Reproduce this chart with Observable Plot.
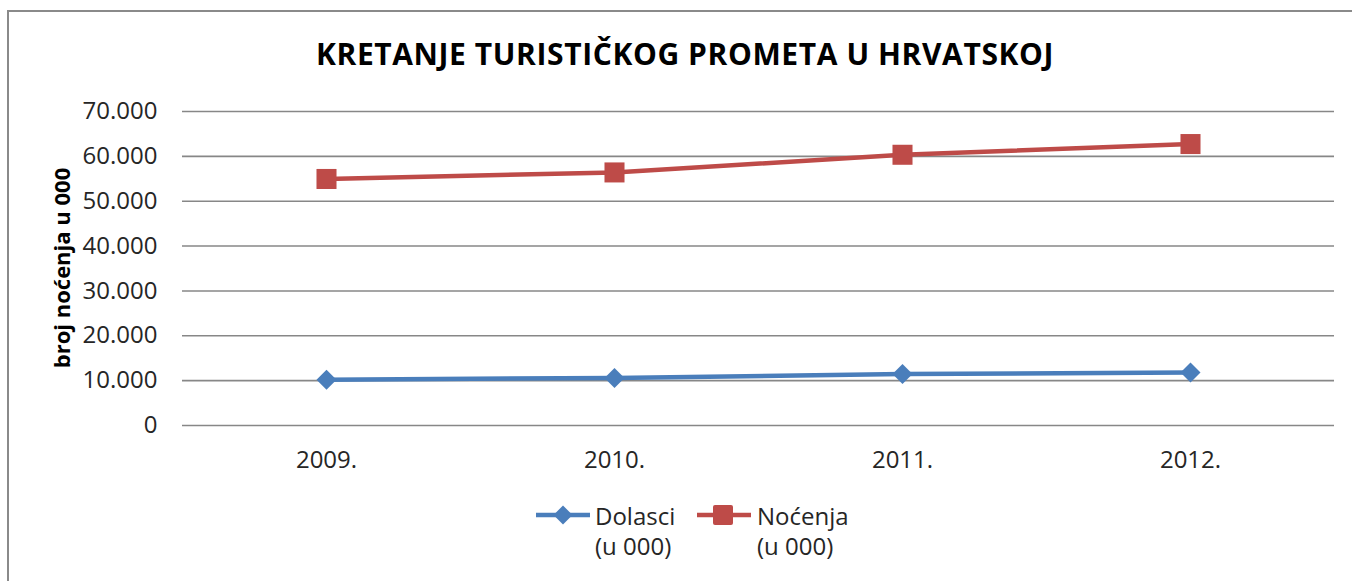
<!DOCTYPE html>
<html>
<head>
<meta charset="utf-8">
<script src="https://cdn.jsdelivr.net/npm/d3@7"></script>
<script src="https://cdn.jsdelivr.net/npm/@observablehq/plot@0.6"></script>
<style>
  html, body { margin: 0; padding: 0; background: #fff; overflow: hidden; }
  #wrap { position: relative; width: 1352px; height: 581px; overflow: hidden; font-family: "Open Sans", sans-serif; color: #262626; }
  #frame { position: absolute; left: 7px; top: 10px; width: 1400px; height: 640px; border-top: 2px solid #8a8a8a; border-left: 2px solid #8a8a8a; }
  #title { position: absolute; left: 0; width: 1370px; top: 33px; text-align: center; font-weight: 700; font-size: 30px; letter-spacing: 0.6px; color: #000; white-space: nowrap; }
  #ylabel { position: absolute; left: 61px; top: 268px; transform: translate(-50%, -50%) rotate(-90deg); font-weight: 700; font-size: 22px; color: #000; white-space: nowrap; }
  #chart { position: absolute; left: 0; top: 0; }
  .leg { position: absolute; font-size: 24px; line-height: 30px; color: #262626; }
  .sw { position: absolute; }
</style>
</head>
<body>
<div id="wrap">
  <div id="frame"></div>
  <div id="chart"></div>
  <div id="title">KRETANJE TURISTIČKOG PROMETA U HRVATSKOJ</div>
  <div id="ylabel">broj noćenja u 000</div>
  <svg class="sw" style="left:535px; top:503px" width="56" height="24">
    <line x1="1" y1="12" x2="55" y2="12" stroke="#4a7ebb" stroke-width="4.5"/>
    <path d="M28,2.5 L37.5,12 L28,21.5 L18.5,12 Z" fill="#4a7ebb"/>
  </svg>
  <div class="leg" style="left:595px; top:501px">Dolasci<br>(u 000)</div>
  <svg class="sw" style="left:696px; top:503px" width="56" height="24">
    <line x1="1" y1="12" x2="55" y2="12" stroke="#be4b48" stroke-width="4.5"/>
    <rect x="17" y="2" width="20" height="20" rx="2" fill="#be4b48"/>
  </svg>
  <div class="leg" style="left:757px; top:501px">Noćenja<br>(u 000)</div>
</div>
<script>
const years = ["2009.", "2010.", "2011.", "2012."];
const seriesNames = ["Dolasci", "Noćenja"];
const dolasci = [10200, 10604, 11456, 11835];
const nocenja = [54960, 56416, 60354, 62743];
const yTicks = [0, 10000, 20000, 30000, 40000, 50000, 60000, 70000];
const colors = ["#4a7ebb", "#be4b48"];

const data = years.flatMap((yr, i) => [
  {year: yr, series: "Dolasci", value: dolasci[i]},
  {year: yr, series: "Noćenja", value: nocenja[i]}
]);

const hr = d3.formatLocale({decimal: ",", thousands: ".", grouping: [3], currency: ["", " kn"]});
const fmt = hr.format(",");

const chart = Plot.plot({
  width: 1352,
  height: 581,
  marginLeft: 182,
  marginRight: 18,
  marginTop: 111,
  marginBottom: 156,
  style: {fontFamily: "Open Sans, sans-serif", fontSize: "24px", color: "#262626", background: "transparent"},
  x: {type: "point", domain: years, padding: 0.5, label: null},
  y: {domain: [0, 70000], label: null},
  color: {domain: seriesNames, range: colors},
  marks: [
    Plot.ruleY(yTicks, {stroke: "#878787", strokeWidth: 1.6}),
    Plot.axisY({ticks: yTicks, tickSize: 0, tickPadding: 25, tickFormat: fmt, label: null}),
    Plot.axisX({tickSize: 0, tickPadding: 25, label: null}),
    Plot.line(data, {x: "year", y: "value", z: "series", stroke: "series", strokeWidth: 4.5}),
    Plot.dot(data.filter(d => d.series === "Dolasci"), {x: "year", y: "value", fill: "series", symbol: "diamond2", r: 9}),
    Plot.dot(data.filter(d => d.series === "Noćenja"), {x: "year", y: "value", fill: "series", symbol: "square", r: 11.3})
  ]
});
document.getElementById("chart").appendChild(chart);
</script>
</body>
</html>
